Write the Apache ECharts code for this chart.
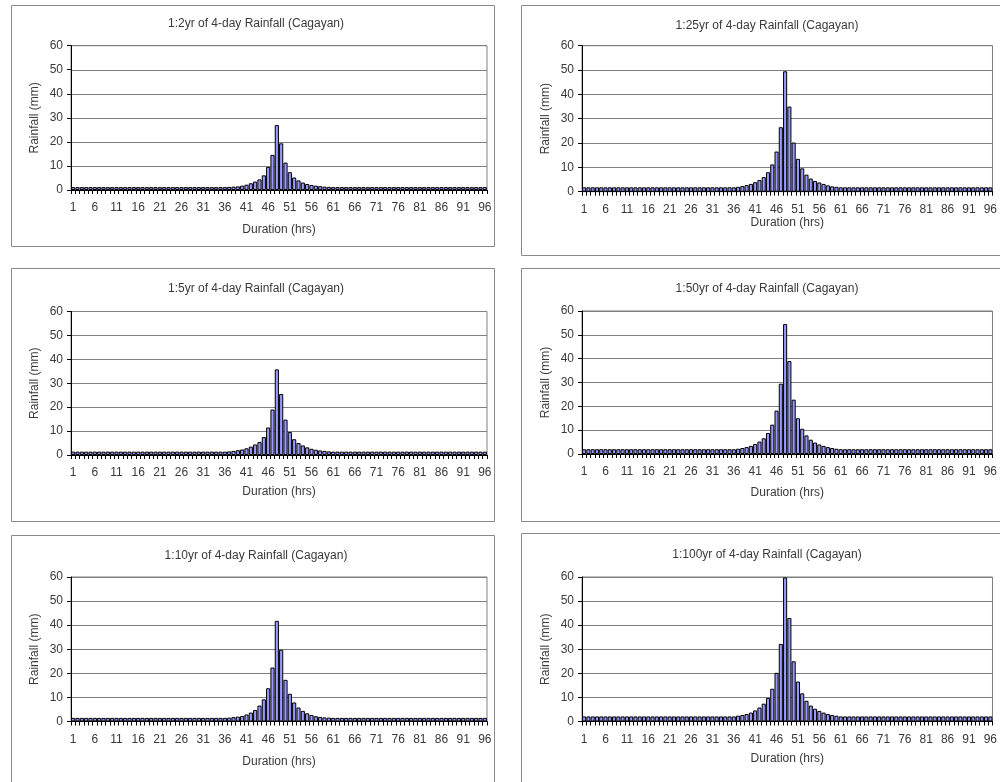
<!DOCTYPE html>
<html>
<head>
<meta charset="utf-8">
<script src="https://cdn.jsdelivr.net/npm/echarts@6/dist/echarts.min.js"></script>
<style>
  html, body { margin: 0; padding: 0; background: #ffffff; overflow: hidden; }
  #chart { width: 1000px; height: 782px; }
</style>
</head>
<body>
<div id="chart"></div>
<script>
// Hourly design-storm rainfall (mm) for hours 1..96 of a 4-day event, Cagayan
const hours = Array.from({ length: 96 }, (_, i) => String(i + 1));

const rain2yr = [
  1.2,1.2,1.2,1.2,1.2,1.2,1.2,1.2,1.2,1.2,1.2,1.2,
  1.2,1.2,1.2,1.2,1.2,1.2,1.2,1.2,1.2,1.2,1.2,1.2,
  1.2,1.2,1.2,1.2,1.2,1.2,1.2,1.2,1.2,1.2,1.2,1.2,
  1.3,1.4,1.5,1.8,2.2,2.8,3.5,4.4,6.1,9.6,14.6,27.0,
  19.4,11.4,7.4,5.2,4.0,3.1,2.5,2.1,1.8,1.6,1.4,1.3,
  1.2,1.2,1.2,1.2,1.2,1.2,1.2,1.2,1.2,1.2,1.2,1.2,
  1.2,1.2,1.2,1.2,1.2,1.2,1.2,1.2,1.2,1.2,1.2,1.2,
  1.2,1.2,1.2,1.2,1.2,1.2,1.2,1.2,1.2,1.2,1.2,1.2
];

const rain5yr = [
  1.4,1.4,1.4,1.4,1.4,1.4,1.4,1.4,1.4,1.4,1.4,1.4,
  1.4,1.4,1.4,1.4,1.4,1.4,1.4,1.4,1.4,1.4,1.4,1.4,
  1.4,1.4,1.4,1.4,1.4,1.4,1.4,1.4,1.4,1.4,1.4,1.4,
  1.5,1.7,2.0,2.3,2.8,3.5,4.4,5.4,7.5,11.5,19.0,35.8,
  25.5,14.8,9.6,6.6,5.0,4.0,3.2,2.6,2.2,1.9,1.7,1.5,
  1.4,1.4,1.4,1.4,1.4,1.4,1.4,1.4,1.4,1.4,1.4,1.4,
  1.4,1.4,1.4,1.4,1.4,1.4,1.4,1.4,1.4,1.4,1.4,1.4,
  1.4,1.4,1.4,1.4,1.4,1.4,1.4,1.4,1.4,1.4,1.4,1.4
];

const rain10yr = [
  1.5,1.5,1.5,1.5,1.5,1.5,1.5,1.5,1.5,1.5,1.5,1.5,
  1.5,1.5,1.5,1.5,1.5,1.5,1.5,1.5,1.5,1.5,1.5,1.5,
  1.5,1.5,1.5,1.5,1.5,1.5,1.5,1.5,1.5,1.5,1.5,1.5,
  1.6,1.8,2.0,2.3,2.9,3.7,4.8,6.6,9.2,13.8,22.4,41.8,
  29.8,17.3,11.5,7.9,5.8,4.4,3.4,2.7,2.2,1.9,1.7,1.6,
  1.5,1.5,1.5,1.5,1.5,1.5,1.5,1.5,1.5,1.5,1.5,1.5,
  1.5,1.5,1.5,1.5,1.5,1.5,1.5,1.5,1.5,1.5,1.5,1.5,
  1.5,1.5,1.5,1.5,1.5,1.5,1.5,1.5,1.5,1.5,1.5,1.5
];

const rain25yr = [
  1.8,1.8,1.8,1.8,1.8,1.8,1.8,1.8,1.8,1.8,1.8,1.8,
  1.8,1.8,1.8,1.8,1.8,1.8,1.8,1.8,1.8,1.8,1.8,1.8,
  1.8,1.8,1.8,1.8,1.8,1.8,1.8,1.8,1.8,1.8,1.8,1.8,
  2.0,2.3,2.7,3.2,3.9,4.8,6.0,8.0,11.2,16.5,26.5,49.5,
  35.0,20.2,13.5,9.6,7.0,5.4,4.4,3.8,3.2,2.6,2.2,2.0,
  1.8,1.8,1.8,1.8,1.8,1.8,1.8,1.8,1.8,1.8,1.8,1.8,
  1.8,1.8,1.8,1.8,1.8,1.8,1.8,1.8,1.8,1.8,1.8,1.8,
  1.8,1.8,1.8,1.8,1.8,1.8,1.8,1.8,1.8,1.8,1.8,1.8
];

const rain50yr = [
  2.0,2.0,2.0,2.0,2.0,2.0,2.0,2.0,2.0,2.0,2.0,2.0,
  2.0,2.0,2.0,2.0,2.0,2.0,2.0,2.0,2.0,2.0,2.0,2.0,
  2.0,2.0,2.0,2.0,2.0,2.0,2.0,2.0,2.0,2.0,2.0,2.0,
  2.2,2.5,2.9,3.4,4.2,5.2,6.6,8.8,12.3,18.2,29.5,54.5,
  39.0,22.8,15.0,10.6,7.8,6.0,4.8,4.0,3.4,2.9,2.5,2.2,
  2.0,2.0,2.0,2.0,2.0,2.0,2.0,2.0,2.0,2.0,2.0,2.0,
  2.0,2.0,2.0,2.0,2.0,2.0,2.0,2.0,2.0,2.0,2.0,2.0,
  2.0,2.0,2.0,2.0,2.0,2.0,2.0,2.0,2.0,2.0,2.0,2.0
];

const rain100yr = [
  2.1,2.1,2.1,2.1,2.1,2.1,2.1,2.1,2.1,2.1,2.1,2.1,
  2.1,2.1,2.1,2.1,2.1,2.1,2.1,2.1,2.1,2.1,2.1,2.1,
  2.1,2.1,2.1,2.1,2.1,2.1,2.1,2.1,2.1,2.1,2.1,2.1,
  2.4,2.7,3.1,3.7,4.6,5.8,7.4,9.8,13.6,20.2,32.2,59.8,
  43.0,25.0,16.6,11.7,8.6,6.6,5.3,4.4,3.7,3.1,2.7,2.4,
  2.1,2.1,2.1,2.1,2.1,2.1,2.1,2.1,2.1,2.1,2.1,2.1,
  2.1,2.1,2.1,2.1,2.1,2.1,2.1,2.1,2.1,2.1,2.1,2.1,
  2.1,2.1,2.1,2.1,2.1,2.1,2.1,2.1,2.1,2.1,2.1,2.1
];

const titles = [
  '1:2yr of 4-day Rainfall (Cagayan)',
  '1:25yr of 4-day Rainfall (Cagayan)',
  '1:5yr of 4-day Rainfall (Cagayan)',
  '1:50yr of 4-day Rainfall (Cagayan)',
  '1:10yr of 4-day Rainfall (Cagayan)',
  '1:100yr of 4-day Rainfall (Cagayan)'
];
const seriesData = [rain2yr, rain25yr, rain5yr, rain50yr, rain10yr, rain100yr];

const xAxisName = 'Duration (hrs)';
const yAxisName = 'Rainfall (mm)';
const yTicks = { min: 0, max: 60, interval: 10 };

// Page layout of the six chart boxes (pixels)
const layout = [
  { box: [11, 5, 483, 241],  plot: [71, 45.7, 416, 144.3],  titleY: 25,  titleX: 256, xGap: 34 },
  { box: [521, 5, 492, 250], plot: [582, 45.7, 415, 146],   titleY: 27,  titleX: 767, xGap: 24 },
  { box: [11, 268, 483, 253], plot: [71, 311.5, 416, 143.5], titleY: 290, titleX: 256, xGap: 31 },
  { box: [521, 268, 492, 253], plot: [582, 311, 415, 143],  titleY: 290, titleX: 767, xGap: 33 },
  { box: [11, 535, 483, 260], plot: [71, 577, 416, 144.5],  titleY: 557, titleX: 256, xGap: 34 },
  { box: [521, 533, 492, 260], plot: [582, 577, 415, 144.5], titleY: 556, titleX: 767, xGap: 31 }
];

const FONT = '"Liberation Sans", Arial, sans-serif';
const TEXT = '#3a3a3a';
const GRID_GREY = '#7f7f7f';

const option = {
  backgroundColor: '#ffffff',
  animation: false,
  title: [],
  grid: [],
  xAxis: [],
  yAxis: [],
  series: [],
  graphic: []
};

layout.forEach((L, i) => {
  option.graphic.push({
    type: 'rect',
    silent: true,
    z: -1,
    shape: { x: L.box[0] + 0.5, y: L.box[1] + 0.5, width: L.box[2], height: L.box[3] },
    style: { fill: '#ffffff', stroke: '#8a8a8a', lineWidth: 1 }
  });
  option.title.push({
    text: titles[i],
    left: L.titleX,
    top: L.titleY - 7,
    textAlign: 'center',
    padding: 0,
    textStyle: { fontFamily: FONT, fontSize: 12, fontWeight: 'normal', color: TEXT }
  });
  option.grid.push({
    left: L.plot[0], top: L.plot[1], width: L.plot[2], height: L.plot[3],
    show: true, borderColor: GRID_GREY, borderWidth: 1, backgroundColor: 'transparent'
  });
  option.xAxis.push({
    type: 'category',
    gridIndex: i,
    data: hours,
    name: xAxisName,
    nameLocation: 'middle',
    nameGap: L.xGap,
    nameTextStyle: { fontFamily: FONT, fontSize: 12, color: TEXT },
    axisLine: { show: true, lineStyle: { color: '#000000', width: 1 } },
    axisTick: { show: true, interval: 0, alignWithLabel: false, length: 4, lineStyle: { color: '#000000' } },
    axisLabel: { interval: 4, margin: 12, fontFamily: FONT, fontSize: 12, color: TEXT },
    splitLine: { show: false }
  });
  option.yAxis.push({
    type: 'value',
    gridIndex: i,
    min: yTicks.min,
    max: yTicks.max,
    interval: yTicks.interval,
    name: yAxisName,
    nameLocation: 'middle',
    nameGap: 30,
    nameTextStyle: { fontFamily: FONT, fontSize: 12, color: TEXT },
    axisLine: { show: true, lineStyle: { color: '#000000', width: 1 } },
    axisTick: { show: true, length: 4, lineStyle: { color: '#000000' } },
    axisLabel: { margin: 8, fontFamily: FONT, fontSize: 12, color: TEXT },
    splitLine: { show: true, lineStyle: { color: GRID_GREY, width: 1 } }
  });
  option.series.push({
    type: 'bar',
    xAxisIndex: i,
    yAxisIndex: i,
    data: seriesData[i],
    barCategoryGap: '4%',
    itemStyle: { color: '#9999ff', borderColor: '#000000', borderWidth: 1 }
  });
});

const chart = echarts.init(document.getElementById('chart'), null, { renderer: 'canvas' });
chart.setOption(option);
</script>
</body>
</html>
